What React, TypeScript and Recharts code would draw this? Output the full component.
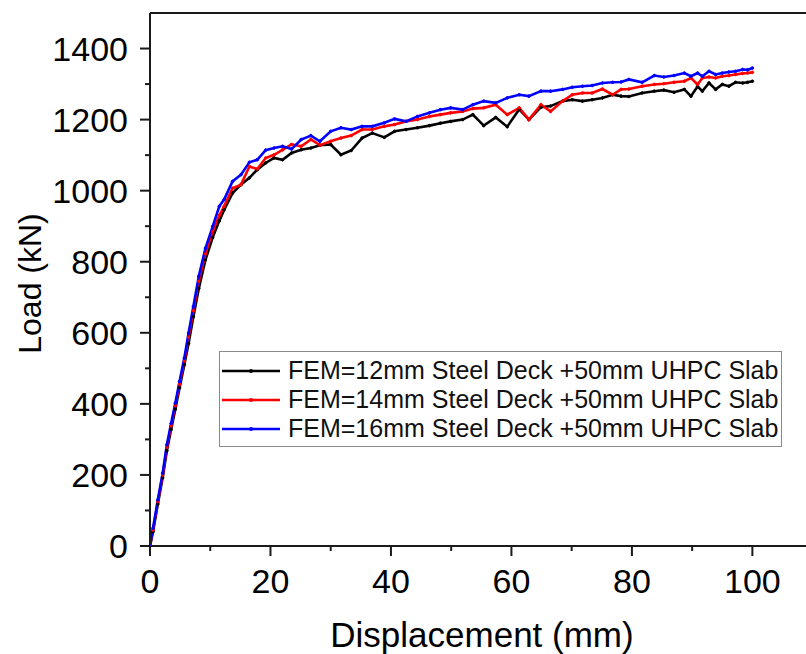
import React from 'react';
import { LineChart, Line, XAxis, YAxis, Legend, ReferenceLine } from 'recharts';

const displacement = [
  0, 0.5, 1.3, 2.1, 2.8, 3.5, 4.2, 4.9, 5.7, 6.4, 7.2, 8.1, 9.2, 10.4, 11.5, 12.3, 13.7, 15.1, 16.5, 17.8,
  19.2, 20.6, 22.0, 23.5, 25.1, 26.7, 28.2, 30.0, 31.7, 33.4, 35.2, 36.9, 38.9, 40.6, 42.5, 44.4, 46.4, 48.2,
  49.9, 51.9, 53.6, 55.4, 57.4, 59.3, 61.3, 62.9, 64.9, 66.5, 68.5, 70.1, 71.8, 73.4, 75.1, 76.8, 78.2, 79.5,
  81.7, 83.7, 85.3, 87.0, 88.7, 89.8, 90.9, 91.7, 92.8, 93.9, 95.0, 96.1, 97.2, 98.4, 99.2, 100,
];

const load12mm = [
  0, 40, 118, 192, 268, 328, 385, 445, 510, 570, 645, 725, 805, 868, 915, 946, 993, 1017, 1036, 1059,
  1078, 1092, 1087, 1106, 1115, 1120, 1128, 1130, 1101, 1113, 1148, 1162, 1150, 1167, 1172, 1177, 1183, 1190,
  1195, 1200, 1214, 1183, 1206, 1180, 1229, 1200, 1235, 1238, 1252, 1256, 1252, 1256, 1261, 1270, 1266, 1265,
  1275, 1280, 1283, 1277, 1285, 1266, 1293, 1280, 1303, 1285, 1299, 1294, 1305, 1303, 1305, 1308,
];

const load14mm = [
  0, 45, 125, 200, 278, 338, 395, 455, 520, 588, 662, 745, 822, 885, 930, 956, 1007, 1017, 1068, 1061,
  1092, 1101, 1115, 1130, 1125, 1144, 1128, 1139, 1148, 1155, 1172, 1172, 1181, 1186, 1195, 1200, 1209, 1214,
  1219, 1223, 1231, 1233, 1242, 1214, 1233, 1200, 1242, 1223, 1252, 1270, 1275, 1275, 1286, 1270, 1285, 1286,
  1294, 1299, 1301, 1305, 1308, 1317, 1299, 1317, 1320, 1317, 1322, 1324, 1327, 1330, 1331, 1333,
];

const load16mm = [
  0, 50, 130, 205, 285, 345, 402, 463, 529, 599, 674, 759, 838, 899, 956, 975, 1026, 1045, 1080, 1087,
  1114, 1120, 1125, 1117, 1144, 1155, 1139, 1167, 1177, 1172, 1181, 1181, 1191, 1202, 1195, 1209, 1219, 1228,
  1233, 1228, 1242, 1252, 1247, 1261, 1270, 1266, 1280, 1280, 1285, 1291, 1294, 1296, 1303, 1305, 1306, 1313,
  1305, 1324, 1320, 1324, 1331, 1322, 1331, 1322, 1336, 1327, 1331, 1334, 1336, 1341, 1340, 1345,
];

const seriesNames = [
  'FEM=12mm Steel Deck +50mm UHPC Slab',
  'FEM=14mm Steel Deck +50mm UHPC Slab',
  'FEM=16mm Steel Deck +50mm UHPC Slab',
];
const seriesKeys = ['s12', 's14', 's16'];
const seriesColors = ['#000000', '#ff0000', '#0000ff'];

const xTicks = [0, 10, 20, 30, 40, 50, 60, 70, 80, 90, 100];
const yTicks = [0, 100, 200, 300, 400, 500, 600, 700, 800, 900, 1000, 1100, 1200, 1300, 1400];
const xMajorStep = 20;
const yMajorStep = 200;

const data = displacement.map((d, i) => ({
  d,
  s12: load12mm[i],
  s14: load14mm[i],
  s16: load16mm[i],
}));

const FONT = '"Liberation Sans", Arial, Helvetica, sans-serif';
const AXIS = '#1a1a1a';

const XTick = (props: any) => {
  const { x, y, payload } = props;
  const major = payload.value % xMajorStep === 0;
  return (
    <g>
      <line x1={x} x2={x} y1={y} y2={y + (major ? 10 : 5)} stroke={AXIS} strokeWidth={2} />
      {major && (
        <text x={x} y={y + 47} textAnchor="middle" fontSize={34} fontFamily={FONT} fill="#000">
          {payload.value}
        </text>
      )}
    </g>
  );
};

const YTick = (props: any) => {
  const { x, y, payload } = props;
  const major = payload.value % yMajorStep === 0;
  return (
    <g>
      <line x1={x - (major ? 10 : 5)} x2={x} y1={y} y2={y} stroke={AXIS} strokeWidth={2} />
      {major && (
        <text x={x - 22} y={y} dy="0.36em" textAnchor="end" fontSize={34} fontFamily={FONT} fill="#000">
          {payload.value}
        </text>
      )}
    </g>
  );
};

const renderLegend = () => (
  <div
    style={{
      width: 563,
      height: 96,
      boxSizing: 'border-box',
      border: '1px solid #8a8a8a',
      background: '#fff',
      paddingTop: 4,
      fontFamily: FONT,
    }}
  >
    {seriesNames.map((name, i) => (
      <div key={name} style={{ height: 29, display: 'flex', alignItems: 'center' }}>
        <svg width={60} height={10} style={{ marginLeft: 2, flex: 'none' }}>
          <line x1={0} x2={58} y1={5} y2={5} stroke={seriesColors[i]} strokeWidth={2.5} />
          <circle cx={29} cy={5} r={2} fill={seriesColors[i]} />
        </svg>
        <span style={{ marginLeft: 6, fontSize: 25, color: '#111', whiteSpace: 'nowrap' }}>{name}</span>
      </div>
    ))}
  </div>
);

export default function App() {
  return (
    <div style={{ position: 'absolute', left: 0, top: 0, width: 806, height: 654, background: '#fff' }}>
      <LineChart width={806} height={654} data={data} margin={{ top: 13, right: 0, left: 0, bottom: 0 }}>
        <XAxis
          dataKey="d"
          type="number"
          domain={[0, 108.9]}
          ticks={xTicks}
          interval={0}
          tickSize={0}
          tickMargin={0}
          tickLine={false}
          tick={<XTick />}
          height={108}
          axisLine={{ stroke: AXIS, strokeWidth: 2 }}
          allowDataOverflow
          label={(p: any) => {
            const vb = p.viewBox;
            return (
              <text
                x={vb.x + vb.width / 2 + 4}
                y={vb.y + 101}
                textAnchor="middle"
                fontSize={35}
                fontFamily={FONT}
                fill="#000"
              >
                Displacement (mm)
              </text>
            );
          }}
        />
        <YAxis
          type="number"
          domain={[0, 1500]}
          ticks={yTicks}
          interval={0}
          tickSize={0}
          tickMargin={0}
          tickLine={false}
          tick={<YTick />}
          width={150}
          axisLine={{ stroke: AXIS, strokeWidth: 2 }}
          allowDataOverflow
          label={(p: any) => {
            const vb = p.viewBox;
            const cx = vb.x + 41;
            const cy = vb.y + vb.height / 2 + 4;
            return (
              <text
                x={cx}
                y={cy}
                transform={`rotate(-90, ${cx}, ${cy})`}
                textAnchor="middle"
                fontSize={32}
                fontFamily={FONT}
                fill="#000"
              >
                Load (kN)
              </text>
            );
          }}
        />
        <ReferenceLine y={1500} stroke={AXIS} strokeWidth={2} />
        {seriesKeys.map((k, i) => (
          <Line
            key={k}
            dataKey={k}
            name={seriesNames[i]}
            stroke={seriesColors[i]}
            strokeWidth={2.6}
            dot={{ r: 1.3, fill: seriesColors[i], stroke: seriesColors[i], strokeWidth: 1 }}
            isAnimationActive={false}
          />
        ))}
        <Legend
          layout="horizontal"
          verticalAlign="middle"
          align="center"
          content={renderLegend}
          wrapperStyle={{ position: 'absolute', left: 219, top: 351, width: 563, height: 96, bottom: 'auto', right: 'auto' }}
        />
      </LineChart>
    </div>
  );
}
